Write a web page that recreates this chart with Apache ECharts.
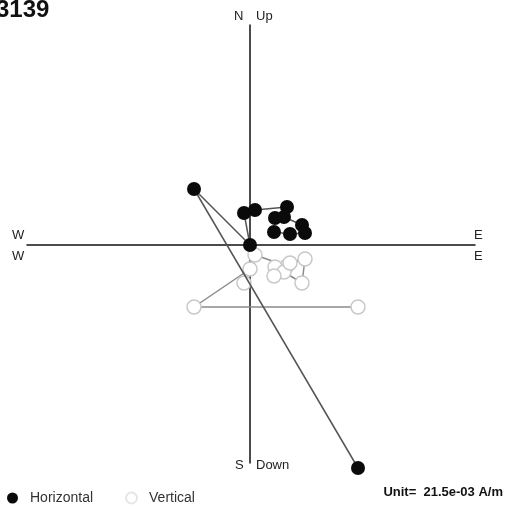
<!DOCTYPE html>
<html>
<head>
<meta charset="utf-8">
<script src="https://cdn.jsdelivr.net/npm/echarts@6/dist/echarts.min.js"></script>
<style>html,body{margin:0;padding:0;background:#fff}#c{width:507px;height:509px}</style>
</head>
<body>
<div id="c"></div>
<script>
// Demagnetisation steps (arbitrary display units)
const east  = [10.8, -5.6, 0.0, -0.6, 0.5, 3.7, 2.5, 3.4, 5.2, 5.5, 4.0, 2.4];
const north = [-22.3, 5.6, 0.0, 3.2, 3.5, 3.8, 2.7, 2.8, 2.0, 1.2, 1.1, 1.3];
const up    = [-6.2, -6.2, -2.4, -3.8, -1.0, -2.1, -2.2, -2.7, -3.8, -1.4, -1.8, -3.1];
const titleText = '3139';
const unitText = 'Unit=  21.5e-03 A/m';
const axisNames = {n:'N', up:'Up', s:'S', down:'Down', w:'W', e:'E'};

const horiz = east.map((e,i)=>[e, north[i]]);
const vert  = east.map((e,i)=>[e, up[i]]);

const chart = echarts.init(document.getElementById('c'), null, {renderer:'canvas'});
const font = 'Liberation Sans, Arial, sans-serif';
const txt = (x,y,t,extra)=>Object.assign({type:'text', x, y, style:{text:t, fill:'#222', font:'13px '+font}}, extra||{});
chart.setOption({
  animation:false,
  backgroundColor:'#fff',
  grid:{left:27, right:32, top:25, bottom:46},
  xAxis:{type:'value', min:-22.3, max:22.5, axisLine:{onZero:true, lineStyle:{color:'#111', width:1.5}},
    axisTick:{show:false}, axisLabel:{show:false}, splitLine:{show:false}},
  yAxis:{type:'value', min:-21.8, max:22.0, axisLine:{onZero:true, lineStyle:{color:'#111', width:1.5}},
    axisTick:{show:false}, axisLabel:{show:false}, splitLine:{show:false}},
  legend:{left:2, top:486, itemGap:32, itemWidth:11, itemHeight:11, icon:'circle',
    textStyle:{fontFamily:font, fontSize:14, color:'#333', padding:[0,0,0,7]},
    data:['Horizontal',{name:'Vertical', itemStyle:{color:'#fff', borderColor:'#e6e6e6'}}]},
  series:[
    {name:'Vertical', type:'line', data:vert, clip:false, symbol:'circle', symbolSize:14,
      lineStyle:{color:'#8a8a8a', width:1.5},
      itemStyle:{color:'#fff', borderColor:'#c8c8c8', borderWidth:1.5}, z:2},
    {name:'Horizontal', type:'line', data:horiz, clip:false, symbol:'circle', symbolSize:14,
      lineStyle:{color:'#555', width:1.5},
      itemStyle:{color:'#0a0a0a', borderColor:'#0a0a0a', borderWidth:0}, z:3}
  ],
  graphic:[
    {type:'text', x:-4, y:-2, style:{text:titleText, fill:'#111', font:'bold 24px '+font}},
    txt(234,10,axisNames.n), txt(256,10,axisNames.up),
    txt(235,459,axisNames.s), txt(256,459,axisNames.down),
    txt(12,229,axisNames.w), txt(12,250,axisNames.w),
    txt(474,229,axisNames.e), txt(474,250,axisNames.e),
    {type:'text', right:4, top:486, style:{text:unitText, fill:'#111', font:'bold 13px '+font}}
  ]
});
</script>
</body>
</html>
